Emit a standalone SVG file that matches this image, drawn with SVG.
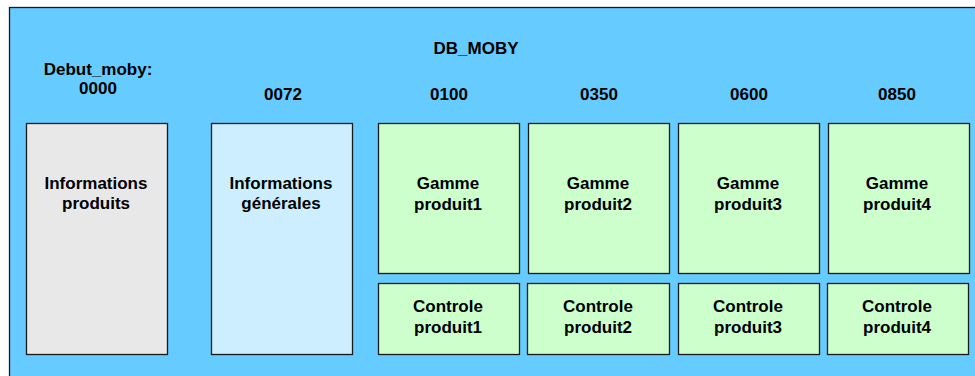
<svg xmlns="http://www.w3.org/2000/svg" width="975" height="376" viewBox="0 0 975 376">
<style>
.t{font-family:"Liberation Sans",Arial,sans-serif;font-weight:bold;font-size:17px;fill:#000;text-anchor:middle}
.b{stroke:#1a1a1a;stroke-width:1.3}
.g{fill:#ccffcc}
</style>
<rect x="0" y="0" width="975" height="376" fill="#ffffff"/>
<rect x="9.5" y="7.5" width="970" height="375" fill="#66ccff" stroke="#1a1a1a" stroke-width="1.3"/>
<g id="labels">
<text class="t" x="476" y="54">DB_MOBY</text>
<text class="t" x="98" y="75">Debut_moby:</text>
<text class="t" x="98" y="94">0000</text>
<text class="t" x="283" y="100">0072</text>
<text class="t" x="449" y="100">0100</text>
<text class="t" x="599" y="100">0350</text>
<text class="t" x="749" y="100">0600</text>
<text class="t" x="897" y="100">0850</text>
</g>
<g id="info_produits"><rect class="b" x="26.5" y="123.5" width="141" height="231" fill="#e8e8e8"/><text class="t" x="96" y="189">Informations</text><text class="t" x="96" y="209">produits</text></g>
<g id="info_generales"><rect class="b" x="211.5" y="123.5" width="141" height="231" fill="#cceeff"/><text class="t" x="281" y="189">Informations</text><text class="t" x="281" y="209">générales</text></g>
<g id="gamme1"><rect class="b g" x="378.5" y="123.5" width="141" height="150"/><text class="t" x="448" y="189">Gamme</text><text class="t" x="448" y="210">produit1</text></g>
<g id="gamme2"><rect class="b g" x="528.5" y="123.5" width="141" height="150"/><text class="t" x="598" y="189">Gamme</text><text class="t" x="598" y="210">produit2</text></g>
<g id="gamme3"><rect class="b g" x="678.5" y="123.5" width="141" height="150"/><text class="t" x="748" y="189">Gamme</text><text class="t" x="748" y="210">produit3</text></g>
<g id="gamme4"><rect class="b g" x="828.5" y="123.5" width="141" height="150"/><text class="t" x="897" y="189">Gamme</text><text class="t" x="897" y="210">produit4</text></g>
<g id="controle1"><rect class="b g" x="378.5" y="283.5" width="141" height="71"/><text class="t" x="448" y="312">Controle</text><text class="t" x="448" y="333">produit1</text></g>
<g id="controle2"><rect class="b g" x="527.5" y="283.5" width="142" height="71"/><text class="t" x="598" y="312">Controle</text><text class="t" x="598" y="333">produit2</text></g>
<g id="controle3"><rect class="b g" x="678.5" y="283.5" width="141" height="71"/><text class="t" x="748" y="312">Controle</text><text class="t" x="748" y="333">produit3</text></g>
<g id="controle4"><rect class="b g" x="827.5" y="283.5" width="141" height="71"/><text class="t" x="897" y="312">Controle</text><text class="t" x="897" y="333">produit4</text></g>
<g id="connectors"></g>
</svg>
